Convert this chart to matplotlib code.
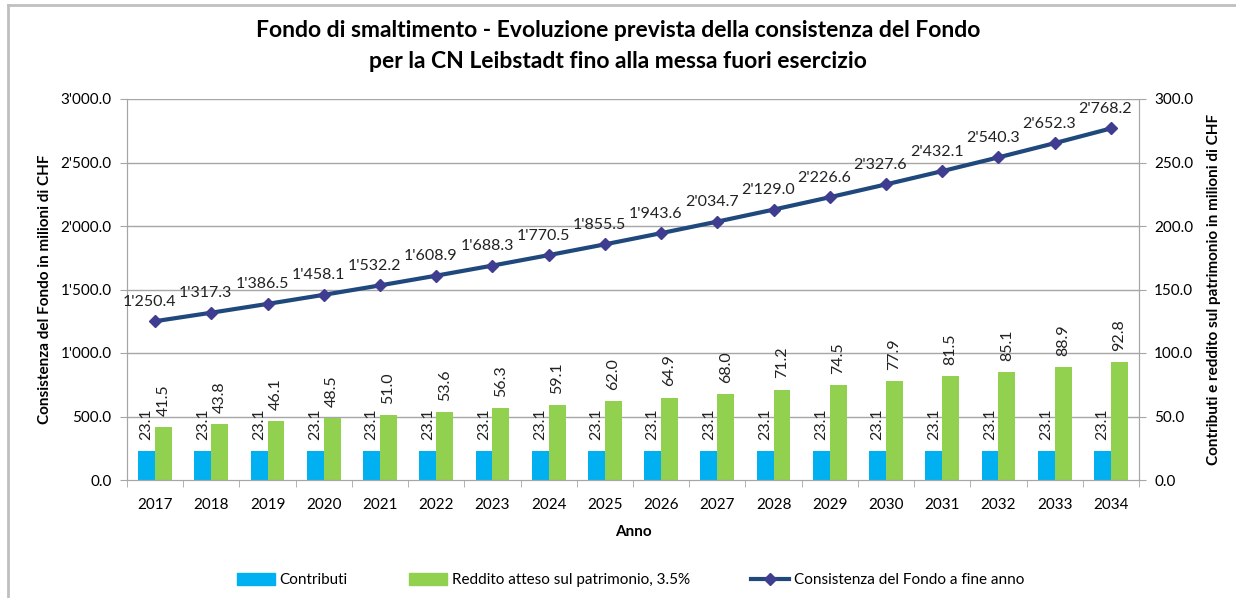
import matplotlib
matplotlib.use("Agg")
import matplotlib.pyplot as plt
from matplotlib.lines import Line2D
from matplotlib.patches import Patch
import numpy as np

years = [str(y) for y in range(2017, 2035)]
contributi = [23.1] * 18
reddito = [41.5, 43.8, 46.1, 48.5, 51.0, 53.6, 56.3, 59.1, 62.0, 64.9,
           68.0, 71.2, 74.5, 77.9, 81.5, 85.1, 88.9, 92.8]
consistenza = [1250.4, 1317.3, 1386.5, 1458.1, 1532.2, 1608.9, 1688.3, 1770.5,
               1855.5, 1943.6, 2034.7, 2129.0, 2226.6, 2327.6, 2432.1, 2540.3,
               2652.3, 2768.2]
left_ticks = [0, 500, 1000, 1500, 2000, 2500, 3000]
right_ticks = [0, 50, 100, 150, 200, 250, 300]

title = ("Fondo di smaltimento - Evoluzione prevista della consistenza del Fondo\n"
         "per la CN Leibstadt fino alla messa fuori esercizio")
ylabel_left = "Consistenza del Fondo in milioni di CHF"
ylabel_right = "Contributi e reddito sul patrimonio in milioni di CHF"
xlabel = "Anno"
leg_labels = ["Contributi", "Reddito atteso sul patrimonio, 3.5%",
              "Consistenza del Fondo a fine anno"]

C_BLUE = "#00B0F0"
C_GREEN = "#92D050"
C_LINE = "#1F497D"
C_MARK = "#3F3D8F"
C_GRID = "#A6A6A6"

def fmt(v):
    s = f"{v:,.1f}"
    return s.replace(",", "'")

plt.rcParams['font.family'] = ['Lato', 'DejaVu Sans']
W, H = 1236, 598
fig = plt.figure(figsize=(W / 100, H / 100), dpi=100)

# outer frame
fig.add_artist(Line2D([8 / W, 1.0], [1 - 5 / H, 1 - 5 / H], color="#C0C0C0", lw=2))
fig.add_artist(Line2D([8 / W, 8 / W], [0, 1 - 5 / H], color="#C0C0C0", lw=2))

ax = fig.add_axes([127 / W, 1 - 480 / H, (1139 - 127) / W, (480 - 99) / H])
ax2 = ax.twinx()

x = np.arange(len(years))
bw = 0.3
FS = 11.5

# bars on right axis
ax2.bar(x - bw / 2, contributi, bw, color=C_BLUE, zorder=2)
ax2.bar(x + bw / 2, reddito, bw, color=C_GREEN, zorder=2)
for xi, v in zip(x, contributi):
    ax2.annotate(f"{v:.1f}", (xi - bw / 2, v), xytext=(0, 8), textcoords="offset points",
                 rotation=90, ha="center", va="bottom", fontsize=FS, color="#222222")
for xi, v in zip(x, reddito):
    ax2.annotate(f"{v:.1f}", (xi + bw / 2, v), xytext=(0, 8), textcoords="offset points",
                 rotation=90, ha="center", va="bottom", fontsize=FS, color="#222222")
ax2.set_ylim(0, 300)
ax2.set_yticks(right_ticks)
ax2.set_yticklabels([fmt(t) for t in right_ticks], fontsize=11)

ax.set_zorder(ax2.get_zorder() + 1)
ax.patch.set_visible(False)
ax.plot(x, consistenza, color=C_LINE, lw=3, marker="D", markersize=6,
        markerfacecolor=C_MARK, markeredgecolor=C_MARK, zorder=3)
for xi, v in zip(x, consistenza):
    ax.annotate(fmt(v), (xi, v), xytext=(-4, 9), textcoords="offset points",
                ha="center", va="bottom", fontsize=FS, color="#222222")
ax.set_ylim(0, 3000)
ax.set_yticks(left_ticks)
ax.set_yticklabels([fmt(t) for t in left_ticks], fontsize=11)
ax.set_xlim(-0.5, len(years) - 0.5)
ax.set_xticks(x)
ax.set_xticklabels(years, fontsize=11)
ax.set_xticks(np.arange(len(years) + 1) - 0.5, minor=True)
ax.tick_params(axis="x", which="major", length=0, pad=13)
ax.tick_params(axis="x", which="minor", length=5, color=C_GRID)
ax.tick_params(axis="y", length=5, color=C_GRID, pad=6)
ax2.tick_params(axis="y", length=5, color=C_GRID, pad=6)

for t in right_ticks[1:]:
    ax2.axhline(t, color=C_GRID, lw=1, zorder=0)

for a in (ax, ax2):
    for s in a.spines.values():
        s.set_color(C_GRID)
    a.spines["top"].set_visible(False)

ax.set_ylabel(ylabel_left, fontsize=11, fontweight="bold", labelpad=6)
ax2.set_ylabel(ylabel_right, fontsize=11, fontweight="bold", labelpad=10)
ax.set_xlabel(xlabel, fontsize=11, fontweight="bold", labelpad=9)

fig.text(0.5, 1 - 46 / H, title, ha="center", va="center", fontsize=16.5,
         fontweight="bold", linespacing=1.6)

handles = [Patch(color=C_BLUE), Patch(color=C_GREEN),
           Line2D([], [], color=C_LINE, lw=3, marker="D", markersize=6,
                  markerfacecolor=C_MARK, markeredgecolor=C_MARK)]
fig.legend(handles, leg_labels, loc="center", bbox_to_anchor=(0.51, 1 - 580 / H),
           ncol=3, frameon=False, fontsize=11, handlelength=2.5, columnspacing=4,
           handletextpad=0.3, handleheight=0.8)

fig.savefig("out.png", dpi=100)
